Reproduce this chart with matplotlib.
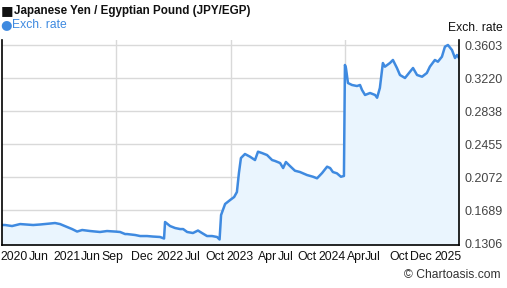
import matplotlib
matplotlib.use("Agg")
import matplotlib.pyplot as plt
import pandas as pd

plt.rcParams['font.family'] = ['Liberation Sans', 'DejaVu Sans']

# JPY/EGP exchange rate
dates = [
    '2020-06-10', '2020-06-22', '2020-07-20', '2020-08-21', '2020-10-12', '2020-11-09',
    '2020-12-18', '2021-01-07', '2021-01-27', '2021-02-24', '2021-03-16', '2021-04-05',
    '2021-04-25', '2021-05-27', '2021-07-05', '2021-08-02', '2021-09-03', '2021-09-23',
    '2021-10-13', '2021-10-21', '2021-11-22', '2021-12-12', '2022-01-08', '2022-02-01',
    '2022-03-01', '2022-03-17', '2022-03-21', '2022-04-10', '2022-04-30', '2022-05-20',
    '2022-06-01', '2022-06-17', '2022-07-10', '2022-07-30', '2022-08-15', '2022-09-04',
    '2022-09-24', '2022-10-14', '2022-10-24', '2022-10-30', '2022-11-15', '2022-12-05',
    '2022-12-21', '2023-01-01', '2023-01-09', '2023-01-17', '2023-02-02', '2023-02-22',
    '2023-03-14', '2023-03-26', '2023-04-11', '2023-05-01', '2023-05-21', '2023-06-02',
    '2023-06-22', '2023-07-04', '2023-07-15', '2023-07-31', '2023-08-20', '2023-09-09',
    '2023-10-07', '2023-10-31', '2023-11-16', '2023-12-06', '2023-12-26', '2024-01-07',
    '2024-01-18', '2024-02-03', '2024-02-19', '2024-03-02', '2024-03-06', '2024-03-10',
    '2024-03-18', '2024-04-03', '2024-04-23', '2024-05-05', '2024-05-13', '2024-05-25',
    '2024-06-14', '2024-07-04', '2024-07-12', '2024-07-23', '2024-08-04', '2024-08-12',
    '2024-09-01', '2024-09-13', '2024-09-29', '2024-10-11', '2024-10-31', '2024-11-20',
    '2024-12-02', '2024-12-18', '2025-01-07', '2025-01-26', '2025-02-07', '2025-02-27',
    '2025-03-11', '2025-03-27', '2025-04-08', '2025-04-20', '2025-05-06', '2025-05-18',
    '2025-05-26', '2025-06-03',
]
rates = [
    0.1515, 0.1515, 0.1503, 0.1526, 0.1515, 0.1521,
    0.1532, 0.1538, 0.1526, 0.1492, 0.1468, 0.1439,
    0.1457, 0.1445, 0.1434, 0.1445, 0.1439, 0.1434,
    0.1410, 0.1410, 0.1399, 0.1387, 0.1387, 0.1381,
    0.1376, 0.1358, 0.1550, 0.1503, 0.1480, 0.1468,
    0.1468, 0.1434, 0.1422, 0.1451, 0.1422, 0.1387,
    0.1387, 0.1376, 0.1347, 0.1631, 0.1759, 0.1805,
    0.1840, 0.1898, 0.2118, 0.2292, 0.2339, 0.2308,
    0.2269, 0.2366, 0.2350, 0.2327, 0.2269, 0.2258,
    0.2234, 0.2176, 0.2246, 0.2200, 0.2145, 0.2130,
    0.2095, 0.2075, 0.2057, 0.2118, 0.2192, 0.2176,
    0.2130, 0.2115, 0.2075, 0.2084, 0.3372, 0.3337,
    0.3163, 0.3140, 0.3128, 0.3140, 0.3082, 0.3024,
    0.3047, 0.3024, 0.2992, 0.3105, 0.3395, 0.3352,
    0.3395, 0.3430, 0.3337, 0.3256, 0.3221, 0.3294,
    0.3337, 0.3256, 0.3236, 0.3279, 0.3352, 0.3430,
    0.3410, 0.3468, 0.3584, 0.3604, 0.3546, 0.3453,
    0.3488, 0.3453,
]

y_ticks = [0.1306, 0.1689, 0.2072, 0.2455, 0.2838, 0.3220, 0.3603]
x_tick_dates = [
    '2020-07-28', '2020-11-05', '2021-02-24', '2021-05-31', '2021-08-22', '2021-12-19',
    '2022-04-10', '2022-07-10', '2022-10-06', '2023-01-13', '2023-05-01', '2023-07-15',
    '2023-10-07', '2024-01-14', '2024-04-23', '2024-06-26', '2024-10-07', '2025-01-03',
    '2025-04-20',
]
x_tick_labels = ['2020', 'Jun', '2021', 'Jun', 'Sep', 'Dec', '2022', 'Jul', 'Oct', '2023',
                 'Apr', 'Jul', 'Oct', '2024', 'Apr', 'Jul', 'Oct', 'Dec', '2025']

x = pd.to_datetime(dates)

fig = plt.figure(figsize=(5.07, 2.88), dpi=100)
ax = fig.add_axes([2 / 507, 43 / 288, 457 / 507, 205 / 288])

ax.fill_between(x, rates, 0, color='#eaf5fe', lw=0)
ax.plot(x, rates, color='#3f8ae0', lw=1.8, solid_joinstyle='round')

ax.set_xlim(x[0], x[-1])
ax.set_ylim(0.1283, 0.3662)

ax.yaxis.tick_right()
ax.set_yticks(y_ticks)
ax.set_yticklabels(['%.4f' % v for v in y_ticks])
ax.set_xticks(pd.to_datetime(x_tick_dates))
ax.set_xticklabels(x_tick_labels)
ax.tick_params(axis='y', length=0, pad=4, labelsize=9, labelcolor='#444444')
ax.tick_params(axis='x', length=0, pad=4, labelsize=8.8, labelcolor='#111111')

ax.grid(axis='y', color='#d9d9d9', lw=1)
for f in (0.25, 0.5, 0.75):
    ax.plot([f, f], [0, 1], transform=ax.transAxes, color='#d9d9d9', lw=1, zorder=0.5)
ax.set_axisbelow(True)

ax.spines['top'].set_visible(False)
for s in ('left', 'right', 'bottom'):
    ax.spines[s].set_color('#000000')
    ax.spines[s].set_linewidth(1.2)

fig.text(1 / 507, 1 - 11 / 288, '\u25a0', fontsize=9.5, color='#111111', va='center', ha='left',
         family=['DejaVu Sans'])
fig.text(14 / 507, 1 - 11 / 288, 'Japanese Yen / Egyptian Pound (JPY/EGP)', fontsize=8.4,
         fontweight='bold', color='#111111', va='center', ha='left')
fig.text(0 / 507, 1 - 25 / 288, '\u25cf', fontsize=9.5, color='#3f8ae0', va='center', ha='left',
         family=['DejaVu Sans'])
fig.text(12 / 507, 1 - 25 / 288, 'Exch. rate', fontsize=8.7, color='#3f8ae0', va='center', ha='left')
fig.text(503 / 507, 1 - 28 / 288, 'Exch. rate', fontsize=8.7, color='#111111', va='center', ha='right')
fig.text(501 / 507, 1 - 275 / 288, '\u00a9 Chartoasis.com', fontsize=8.7, color='#333333',
         va='center', ha='right')

fig.savefig('out.png', dpi=100)
